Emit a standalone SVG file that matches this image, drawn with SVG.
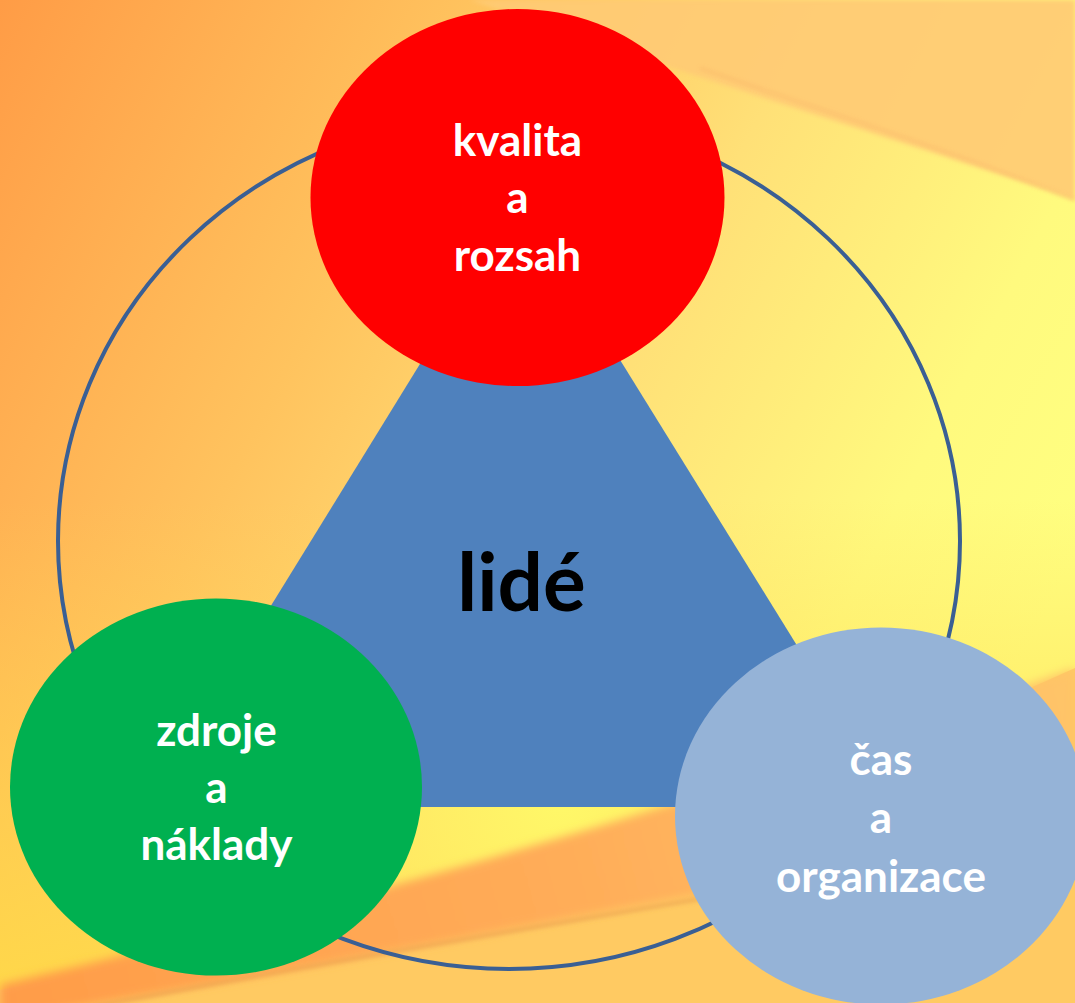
<svg xmlns="http://www.w3.org/2000/svg" width="1075" height="1003" viewBox="0 0 1075 1003">
  <defs>
    <linearGradient id="bg" x1="0" y1="0" x2="1075" y2="560" gradientUnits="userSpaceOnUse">
      <stop offset="0" stop-color="#FF9C46"/>
      <stop offset="0.35" stop-color="#FFC35E"/>
      <stop offset="0.6" stop-color="#FFE077"/>
      <stop offset="0.85" stop-color="#FFFA7E"/>
      <stop offset="1" stop-color="#FFFF80"/>
    </linearGradient>
    <linearGradient id="leftBottom" x1="0" y1="500" x2="0" y2="1003" gradientUnits="userSpaceOnUse">
      <stop offset="0" stop-color="#FFD34E" stop-opacity="0"/>
      <stop offset="1" stop-color="#FFDA46" stop-opacity="0.9"/>
    </linearGradient>
    <radialGradient id="glow" cx="560" cy="800" r="330" gradientUnits="userSpaceOnUse">
      <stop offset="0" stop-color="#FFF868" stop-opacity="1"/>
      <stop offset="0.6" stop-color="#FFF068" stop-opacity="0.6"/>
      <stop offset="1" stop-color="#FFE868" stop-opacity="0"/>
    </radialGradient>
    <linearGradient id="band" x1="0" y1="1000" x2="1075" y2="700" gradientUnits="userSpaceOnUse">
      <stop offset="0" stop-color="#FF9C48"/>
      <stop offset="0.5" stop-color="#FFAC58"/>
      <stop offset="1" stop-color="#FFC468"/>
    </linearGradient>
    <filter id="soft" x="-0.1" y="-0.3" width="1.2" height="1.6">
      <feGaussianBlur stdDeviation="5"/>
    </filter>
    <filter id="softer" x="-0.1" y="-0.3" width="1.2" height="1.6">
      <feGaussianBlur stdDeviation="2"/>
    </filter>
  </defs>
  <style>
    .label { font-family: Lato, "Open Sans", "Liberation Sans", sans-serif; font-weight: 700; font-size: 44px; fill: #FFFFFF; text-anchor: middle; }
    .center { font-family: Lato, "Open Sans", "Liberation Sans", sans-serif; font-weight: 700; font-size: 80px; fill: #000000; text-anchor: middle; }
    .ring { fill: none; stroke: #3A5F94; stroke-width: 4; }
  </style>

  <g id="background">
    <rect x="0" y="0" width="1075" height="1003" fill="url(#bg)"/>
    <rect x="0" y="500" width="1075" height="503" fill="url(#leftBottom)"/>
    <ellipse cx="560" cy="800" rx="360" ry="200" fill="url(#glow)"/>
    <!-- top-right swoosh -->
    <path d="M470,0 L1075,0 L1075,200 C900,140 700,80 470,0 Z" fill="#FFCB74" opacity="0.9" filter="url(#softer)"/>
    <path d="M700,68 C820,110 950,150 1075,200" fill="none" stroke="#F8B468" stroke-width="2" opacity="0.7" filter="url(#softer)"/>
    <!-- bottom swoosh -->
    <path d="M0,1003 L0,990 C300,935 700,840 1075,668 L1075,1003 Z" fill="#FFCA62"/>
    <path d="M0,985 C250,925 600,840 1075,668 L1075,830 C800,870 450,945 0,1020 Z" fill="url(#band)" filter="url(#soft)"/>
    <path d="M0,1025 C300,965 550,925 1075,835" fill="none" stroke="#E0924A" stroke-width="3" opacity="0.55" filter="url(#softer)"/>
  </g>

  <g id="connectors">
    <ellipse class="ring" cx="509" cy="541" rx="451" ry="428"/>
  </g>

  <g id="node-lide">
    <polygon points="521,200 147,807 897,807" fill="#4F81BD"/>
    <text class="center" x="521.5" y="611">lidé</text>
  </g>

  <g id="node-kvalita">
    <ellipse cx="517.5" cy="197.5" rx="207" ry="188.5" fill="#FF0000"/>
    <text class="label" x="517.5" y="155.5">kvalita</text>
    <text class="label" x="517.5" y="213">a</text>
    <text class="label" x="517.5" y="270.5">rozsah</text>
  </g>

  <g id="node-zdroje">
    <ellipse cx="216" cy="787" rx="206" ry="188.5" fill="#00B050"/>
    <text class="label" x="216.5" y="746">zdroje</text>
    <text class="label" x="216.5" y="803">a</text>
    <text class="label" x="216.5" y="860">náklady</text>
  </g>

  <g id="node-cas">
    <ellipse cx="881" cy="816" rx="206" ry="188.5" fill="#95B3D7"/>
    <text class="label" x="881" y="775">čas</text>
    <text class="label" x="881" y="833">a</text>
    <text class="label" x="881" y="892">organizace</text>
  </g>
</svg>
